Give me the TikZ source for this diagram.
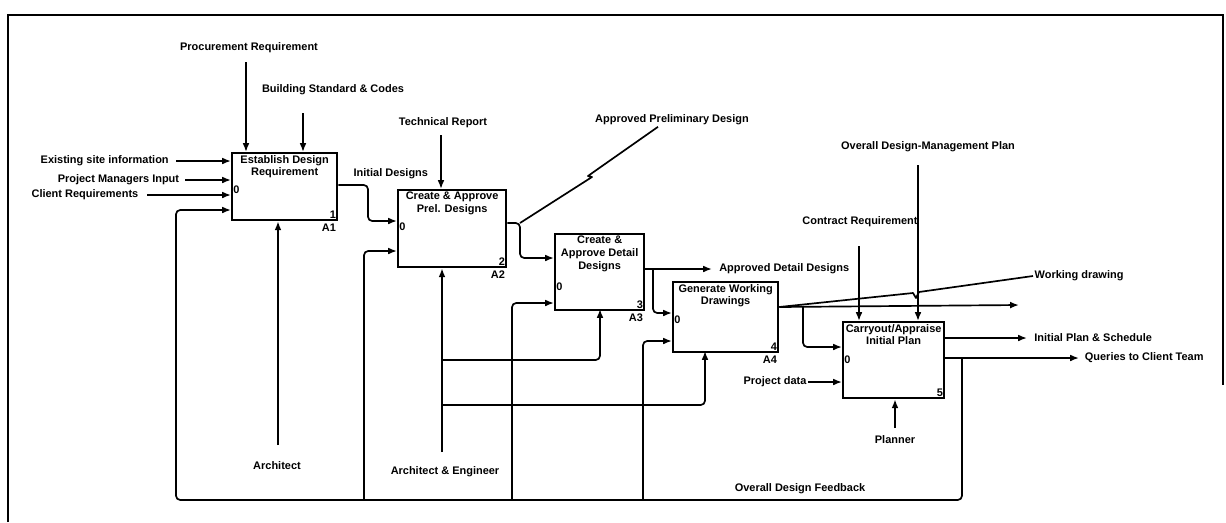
\documentclass[tikz,border=0pt]{standalone}
\usepackage{fontspec}
\setmainfont{Liberation Sans}
\usetikzlibrary{positioning,arrows.meta}
\tikzset{
  act/.style={draw, line width=1.6pt, anchor=north west, inner sep=0pt},
  lbl/.style={font=\fontsize{7.8}{9.2}\selectfont\bfseries, inner sep=1pt, align=center},
  title/.style={lbl, anchor=north, inner sep=2pt},
  tag/.style={font=\fontsize{7.8}{9.2}\selectfont\bfseries, inner sep=1.5pt},
  flow/.style={-{Latex[length=2.2mm, width=1.7mm]}, line width=1.2pt, rounded corners=3pt},
  link/.style={line width=1.2pt, line join=round},
  frame/.style={line width=1.8pt},
}

\begin{document}
\begin{tikzpicture}[x=0.025cm, y=-0.025cm]
\useasboundingbox (0,0) rectangle (1226,522);

% outer frame
\draw[frame] (8,522) -- (8,15) -- (1223,15) -- (1223,385);

% activity boxes
\node[act, minimum width=2.625cm, minimum height=1.675cm,
  label={[title]north:Establish Design\\Requirement},
  label={[tag, anchor=south east]south east:1},
  label={[tag, anchor=north east]south east:A1}] (a1) at (231,152) {};
\node[act, minimum width=2.7cm, minimum height=1.925cm,
  label={[title]north:Create \& Approve\\Prel. Designs},
  label={[tag, anchor=south east]south east:2},
  label={[tag, anchor=north east]south east:A2}] (a2) at (397,189) {};
\node[act, minimum width=2.225cm, minimum height=1.9cm,
  label={[title]north:Create \&\\Approve Detail\\Designs},
  label={[tag, anchor=south east]south east:3},
  label={[tag, anchor=north east]south east:A3}] (a3) at (554,233) {};
\node[act, minimum width=2.625cm, minimum height=1.75cm,
  label={[title]north:Generate Working\\Drawings},
  label={[tag, anchor=south east]south east:4},
  label={[tag, anchor=north east]south east:A4}] (a4) at (672,281) {};
\node[act, minimum width=2.525cm, minimum height=1.9cm,
  label={[title]north:Carryout/Appraise\\Initial Plan},
  label={[tag, anchor=south east]south east:5}] (a5) at (842,321) {};

\node[tag, anchor=west] (z1) at (a1.west |- 0,190) {0};
\node[tag, anchor=west] (z2) at (a2.west |- 0,227) {0};
\node[tag, anchor=west] (z3) at (a3.west |- 0,287) {0};
\node[tag, anchor=west] (z4) at (a4.west |- 0,320) {0};
\node[tag, anchor=west] (z5) at (a5.west |- 0,360) {0};

% free ends
\coordinate (cProc) at (246,62);
\coordinate (cBuild) at (303,113);
\coordinate (cExist) at (176,161);
\coordinate (cPM) at (185,180);
\coordinate (cClient) at (147,195);
\coordinate (cTech) at (441,135);
\coordinate (cArch) at (278,445);
\coordinate (cAE) at (442,452);
\coordinate (cContract) at (859,246);
\coordinate (cODMP) at (918,165);
\coordinate (cPlanner) at (895,428);
\coordinate (oADD) at (712,269);
\coordinate (oA4) at (1019,305);
\coordinate (oIPS) at (1027,338);
\coordinate (oQCT) at (1079,358);

% labels
\node[lbl] (lProc) at (249,48) {Procurement Requirement};
\node[lbl] (lBuild) at (333,90) {Building Standard \& Codes};
\node[lbl, left=4pt of cExist] (lExist) {Existing site information};
\node[lbl, left=3pt of cPM] (lPM) {Project Managers Input};
\node[lbl, left=5pt of cClient] (lClient) {Client Requirements};
\node[lbl, anchor=west] (lInit) at (352,174) {Initial Designs};
\node[lbl] (lTech) at (443,123) {Technical Report};
\node[lbl] (lAPD) at (672,120) {Approved Preliminary Design};
\node[lbl, right=4pt of oADD] (lADD) {Approved Detail Designs};
\node[lbl, anchor=west] (lWD) at (1033,276) {Working drawing};
\node[lbl] (lContract) at (860,222) {Contract Requirement};
\node[lbl] (lODMP) at (928,147) {Overall Design-Management Plan};
\node[lbl, right=4pt of oIPS] (lIPS) {Initial Plan \& Schedule};
\node[lbl, right=3pt of oQCT] (lQCT) {Queries to Client Team};
\node[lbl] (lPD) at (775,382) {Project data};
\node[lbl, below=4pt of cPlanner] (lPlanner) {Planner};
\node[lbl] (lArch) at (277,466) {Architect};
\node[lbl] (lAE) at (445,472) {Architect \& Engineer};
\node[lbl] (lODF) at (800,489) {Overall Design Feedback};

% A1
\draw[flow] (cProc) -- (cProc |- a1.north);
\draw[flow] (cBuild) -- (cBuild |- a1.north);
\draw[flow] (cExist) -- (cExist -| a1.west);
\draw[flow] (cPM) -- (cPM -| a1.west);
\draw[flow] (cClient) -- (cClient -| a1.west);
\draw[flow] (cArch) -- (cArch |- a1.south);
\draw[flow] (a1.east |- 0,185) -| (368,221) -- (a2.west |- 0,221);

% A2
\draw[flow] (cTech) -- (cTech |- a2.north);
\draw[flow] (cAE) -- (cAE |- a2.south);
\draw[flow] (cAE |- 0,360) -| (600,309);
\draw[flow] (cAE |- 0,405) -| (705,351);
\coordinate (j2) at (520,223);
\draw[flow] (a2.east |- j2) -| (520,258) -- (a3.west |- 0,258);
\draw[link] (j2) -- (592,177) -- (588,176) -- (595,171) -- ([xshift=-0.35cm]lAPD.south);

% A3
\coordinate (j3) at (653,269);
\draw[flow] (a3.east |- j3) -- (oADD);
\draw[flow] (j3) |- (a4.west |- 0,313);

% A4
\coordinate (j4) at (803,307);
\draw[flow] (a4.east |- j4) -- (oA4);
\draw[link] (a4.east |- j4) -- (913,293) -- (916,298) -- (919,292) -- (lWD.west);
\draw[flow] (j4) |- (a5.west |- 0,347);

% A5
\draw[flow] (cContract) -- (cContract |- a5.north);
\draw[flow] (cODMP) -- (cODMP |- a5.north);
\draw[flow] (a5.east |- oIPS) -- (oIPS);
\draw[flow] (a5.east |- oQCT) -- (oQCT);
\draw[flow] (lPD) -- (lPD -| a5.west);
\draw[flow] (cPlanner) -- (cPlanner |- a5.south);

% feedback
\coordinate (fb) at (962,358);
\draw[flow] (fb) |- (176,500) |- (a1.west |- 0,210);
\draw[flow] (364,500) |- (a2.west |- 0,251);
\draw[flow] (512,500) |- (a3.west |- 0,303);
\draw[flow] (643,500) |- (a4.west |- 0,341);

\end{tikzpicture}
\end{document}
